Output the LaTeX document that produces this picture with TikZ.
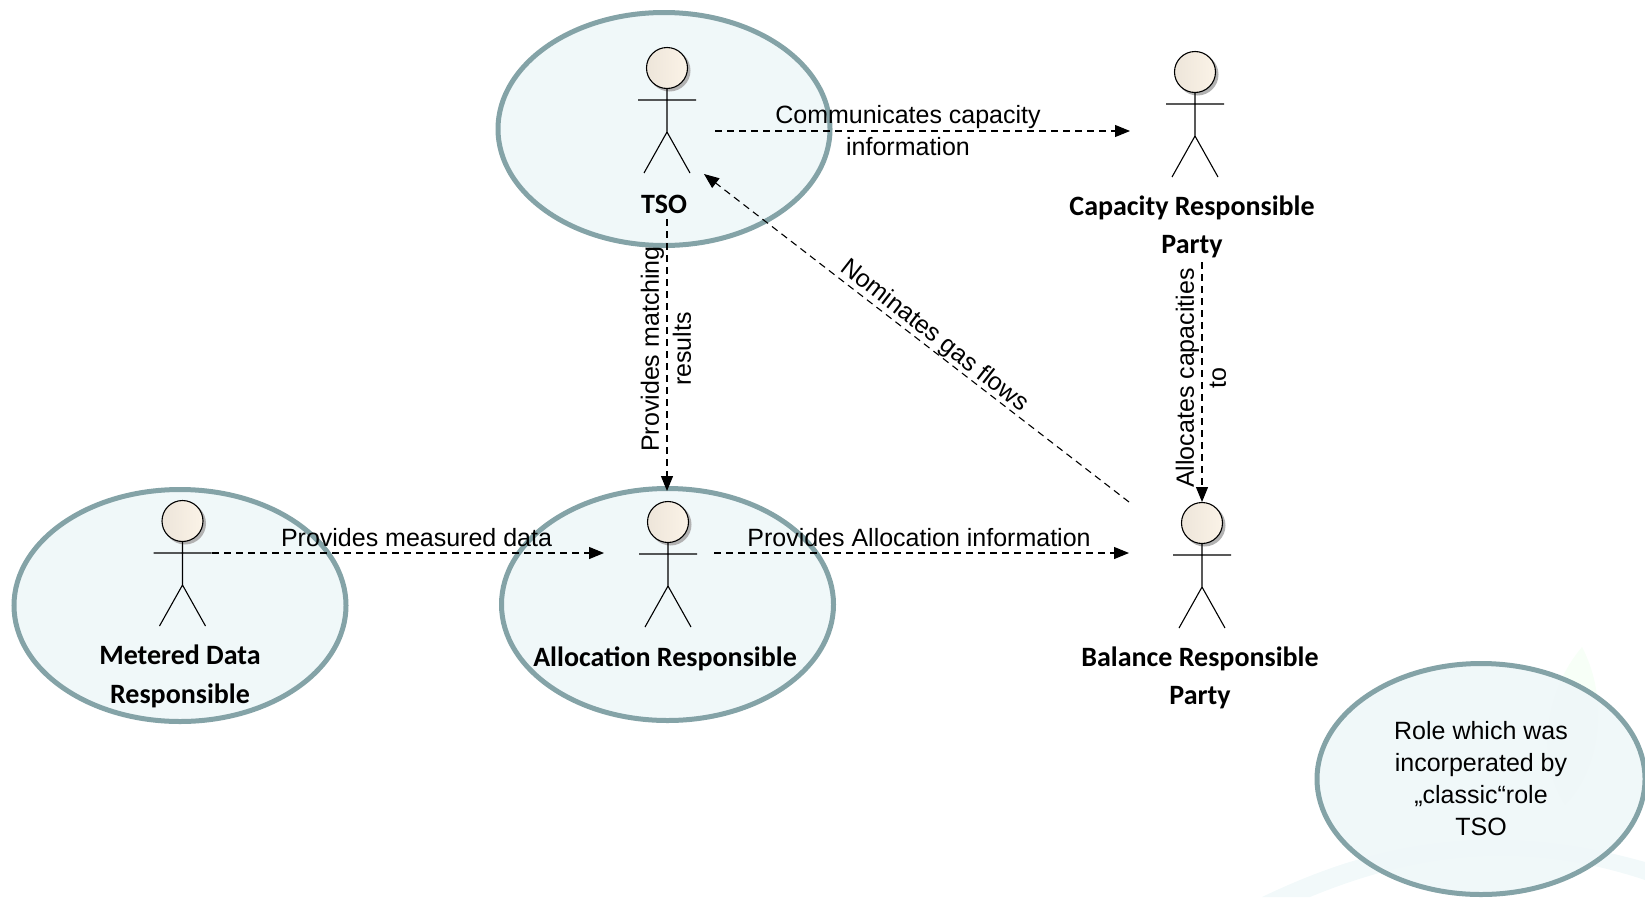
\documentclass[tikz,border=0pt]{standalone}
\usepackage{fontspec}
\setmainfont{Liberation Sans}
\newfontfamily\calibri{Carlito}
\usetikzlibrary{shapes.geometric,arrows.meta}
\tikzset{
  x=1pt,y=-1pt,
  rolebubble/.style={ellipse,draw=bubbleline,line width=5pt,fill=bubblefill,fill opacity=0.92,text opacity=1,inner sep=0pt,minimum width=#1},
  rolebubble/.default=332pt,
  actorhead/.style={circle,draw=black,line width=1.1pt,minimum size=41pt,inner sep=0pt,left color=headleft,right color=headright},
  actorline/.style={line width=1.1pt,draw=black},
  hitbox/.style={rectangle,inner sep=0pt,outer sep=0pt,minimum width=#1},
  flow/.style={draw=black,line width=1.1pt,dash pattern=on 7pt off 5pt,-{Triangle[length=15pt,width=12pt]}},
  flowlabel/.style={align=center,font=\fontsize{25}{32}\selectfont,inner sep=0pt},
  rolelabel/.style={align=center,font=\calibri\bfseries\fontsize{28}{38.5}\selectfont,inner sep=0pt},
}
\definecolor{bubbleline}{HTML}{84A3A7}
\definecolor{bubblefill}{HTML}{EFF7F9}
\definecolor{headleft}{HTML}{EDE5DA}
\definecolor{headright}{HTML}{FBF3E7}
\newcommand{\actorfig}[3]{%
  \begin{scope}[shift={(#2,#3)}]
    \fill[black!30] (2.5,2.5) circle[radius=21];
    \node[actorhead] (#1) at (0,0) {};
    \draw[actorline] (#1.south) -- (0,64) (-29,32) -- (29,32) (-23,105) -- (0,64) -- (23,105);
  \end{scope}}
\begin{document}
\begin{tikzpicture}
\useasboundingbox (0,0) rectangle (1645,897);
% faint background artwork
\fill[green!3!white] (1582,647) .. controls (1545,690) and (1535,760) .. (1565,805) .. controls (1600,770) and (1610,700) .. (1582,647);
\fill[bubblefill!80!white] (1262,897) .. controls (1360,850) and (1480,815) .. (1645,862) -- (1645,880) .. controls (1510,835) and (1400,860) .. (1310,897) -- cycle;
% bubbles
\node[rolebubble] (tsoB) at (664,129) [minimum height=233pt] {};
\node[rolebubble] (mdrB) at (180,605.5) [minimum height=232pt] {};
\node[rolebubble] (arB) at (667.5,604.5) [minimum height=232pt] {};
\node[rolebubble=328pt,minimum height=231pt,flowlabel] (roleB) at (1481,779) {Role which was\\incorperated by\\„classic“role\\TSO};
% actors
\actorfig{tso}{667}{68}
\actorfig{cap}{1195}{72}
\actorfig{mdr}{182.5}{521}
\actorfig{ar}{668}{522}
\actorfig{bal}{1202}{523}
% invisible boxes that the connectors attach to
\node[hitbox=96pt,minimum height=176pt] (tsoBox) at (667,131) {};
\node[hitbox=144pt,minimum height=262pt] (capBox) at (1202,131) {};
\node[hitbox=60pt,minimum height=100pt] (mdrBox) at (182,553) {};
\node[hitbox=94pt,minimum height=124pt] (arBox) at (667,553) {};
\node[hitbox=146pt,minimum height=102pt] (balBox) at (1202,553) {};
\coordinate (tsoTip) at (704,174);
% labels
\node[rolelabel] (tsoL) at (664,204.5) {TSO};
\node[rolelabel] (capL) at (1192,227) {Capacity Responsible\\Party};
\node[rolelabel] (mdrL) at (180,676.5) {Metered Data\\Responsible};
\node[rolelabel] (arL) at (665,659) {Allocation Responsible};
\node[rolelabel] (balL) at (1200,678) {Balance Responsible\\Party};
% connectors
\draw[flow] (tsoBox.east) -- (capBox.west);
\draw[flow] (tsoBox.south) -- (arBox.north);
\draw[flow] (capBox.south) -- (balBox.north);
\draw[flow] (balBox.north west) -- (tsoTip);
\draw[flow,shorten >=16pt] (mdrBox.east) -- (arBox.west);
\draw[flow] (arBox.east) -- (balBox.west);
% connector labels
\node[flowlabel] (l1) at (908,131) {Communicates capacity\\ information};
\node[flowlabel,rotate=90] (l2) at (666,349) {Provides matching\\results};
\node[flowlabel,rotate=90] (l3) at (1201,378) {Allocates capacities\\to};
\node[flowlabel,rotate=-38] (l4) at (934,336) {Nominates gas flows};
\node[flowlabel] (l5) at (416.5,538) {Provides measured data};
\node[flowlabel] (l6) at (919,538) {Provides Allocation information};
\end{tikzpicture}
\end{document}
